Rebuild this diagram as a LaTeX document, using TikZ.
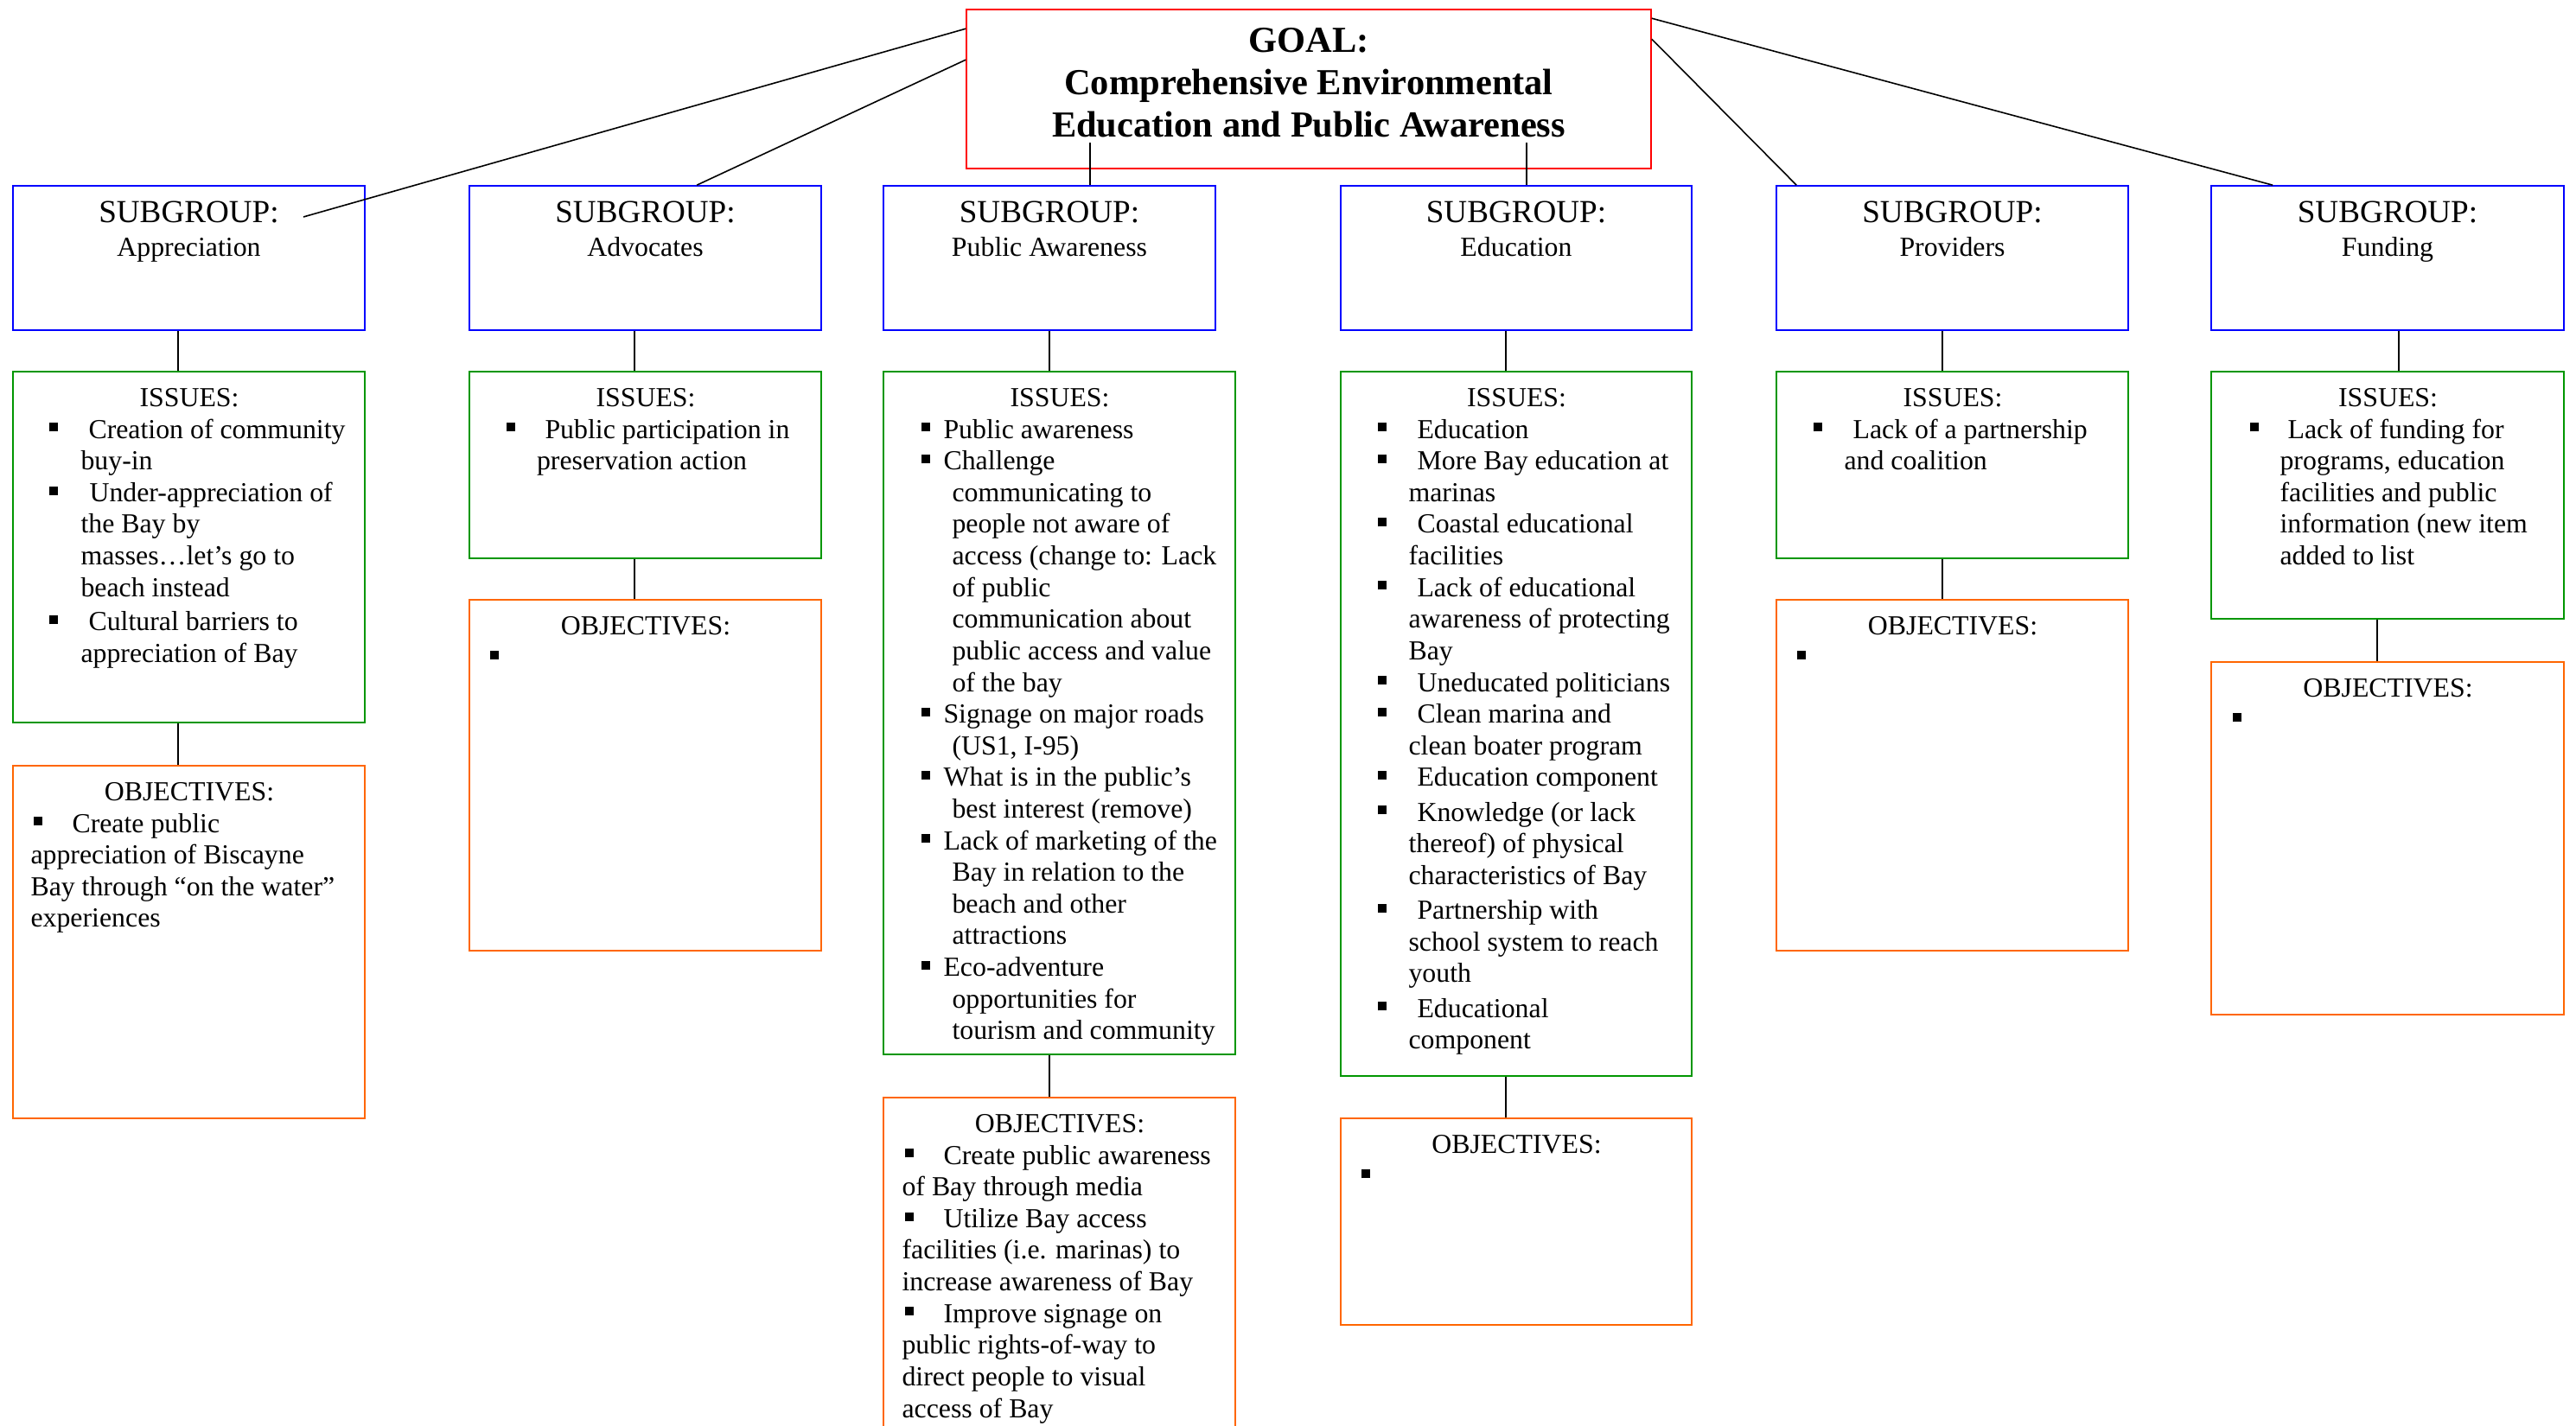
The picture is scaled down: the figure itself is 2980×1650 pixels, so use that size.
\documentclass[tikz,border=0pt]{standalone}
\usepackage{fontspec}
\setmainfont{Liberation Serif}
\usetikzlibrary{fit}
\definecolor{goalred}{RGB}{255,0,0}
\definecolor{subblue}{RGB}{0,0,255}
\definecolor{issgreen}{RGB}{0,150,0}
\definecolor{objorange}{RGB}{255,102,0}
\newdimen\PX \PX=0.377pt
\newcommand\HeadL[2]{\makebox[#1\PX]{\strut #2}}
\newcommand\BulL[3]{\rlap{\hspace*{#1\PX}\rule[2.9pt]{3.8pt}{3.8pt}}\hspace*{#2\PX}#3}
\newcommand\ConL[2]{\hspace*{#1\PX}#2}
\tikzset{
  boxbase/.style={draw, line width=0.6pt, inner sep=0pt, rectangle},
  goalbox/.style={boxbase, draw=goalred},
  subbox/.style={boxbase, draw=subblue},
  issbox/.style={boxbase, draw=issgreen},
  objbox/.style={boxbase, draw=objorange},
  conn/.style={draw=black, line width=0.6pt},
  txt/.style={inner sep=0pt, anchor=north west, align=left, font=\fontsize{12}{13.8}\selectfont},
  goaltxt/.style={inner sep=0pt, anchor=base, font=\bfseries\fontsize{16}{18.4}\selectfont},
  subhead/.style={inner sep=0pt, anchor=base, font=\fontsize{14}{16.1}\selectfont},
  subname/.style={inner sep=0pt, anchor=base, font=\fontsize{12}{13.8}\selectfont}
}
\begin{document}
\begin{tikzpicture}[x=0.377pt, y=-0.377pt]
\useasboundingbox (0,0) rectangle (2980,1650);
\clip (0,0) rectangle (2980,1650);
% goal
\node[goalbox, fit={(1118,11) (1910,195)}] (goal) {};
\node[goaltxt] (g1) at (1514,61) {GOAL:};
\node[goaltxt] (g2) at (1514,110) {Comprehensive Environmental};
\node[goaltxt] (g3) at (1514,159) {Education and Public Awareness};
% subgroups
\node[subbox, fit={(15,215) (422,382)}] (sub1) {};
\node[subbox, fit={(543,215) (950,382)}] (sub2) {};
\node[subbox, fit={(1022,215) (1406,382)}] (sub3) {};
\node[subbox, fit={(1551,215) (1957,382)}] (sub4) {};
\node[subbox, fit={(2055,215) (2462,382)}] (sub5) {};
\node[subbox, fit={(2558,215) (2966,382)}] (sub6) {};
\node[subhead] (s1a) at (218.5,258) {SUBGROUP:};
\node[subname] (s1b) at (218.5,297) {Appreciation};
\node[subhead] (s2a) at (746.5,258) {SUBGROUP:};
\node[subname] (s2b) at (746.5,297) {Advocates};
\node[subhead] (s3a) at (1214,258) {SUBGROUP:};
\node[subname] (s3b) at (1214,297) {Public Awareness};
\node[subhead] (s4a) at (1754,258) {SUBGROUP:};
\node[subname] (s4b) at (1754,297) {Education};
\node[subhead] (s5a) at (2258.5,258) {SUBGROUP:};
\node[subname] (s5b) at (2258.5,297) {Providers};
\node[subhead] (s6a) at (2762,258) {SUBGROUP:};
\node[subname] (s6b) at (2762,297) {Funding};
% issues boxes
\node[issbox, fit={(15,430) (422,836)}] (iss1) {};
\node[issbox, fit={(543,430) (950,646)}] (iss2) {};
\node[issbox, fit={(1022,430) (1429,1220)}] (iss3) {};
\node[issbox, fit={(1551,430) (1957,1245)}] (iss4) {};
\node[issbox, fit={(2055,430) (2462,646)}] (iss5) {};
\node[issbox, fit={(2558,430) (2966,716)}] (iss6) {};
% objectives boxes
\node[objbox, fit={(15,886) (422,1294)}] (obj1) {};
\node[objbox, fit={(543,694) (950,1100)}] (obj2) {};
\node[objbox, fit={(1022,1270) (1429,1720)}] (obj3) {};
\node[objbox, fit={(1551,1294) (1957,1533)}] (obj4) {};
\node[objbox, fit={(2055,694) (2462,1100)}] (obj5) {};
\node[objbox, fit={(2558,766) (2966,1174)}] (obj6) {};
% issues text
\node[txt] (it1) at (15,444.4) {\HeadL{407}{ISSUES:}\\
\BulL{41}{87}{Creation of community}\\
\ConL{78}{buy-in}\\
\BulL{41}{88}{Under-appreciation of}\\
\ConL{78}{the Bay by}\\
\ConL{78}{masses…let’s go to}\\
\ConL{78}{beach instead}\\[1.2pt]
\BulL{41}{87}{Cultural barriers to}\\
\ConL{78}{appreciation of Bay}};
\node[txt] (it2) at (543,444.4) {\HeadL{407}{ISSUES:}\\
\BulL{42}{87}{Public participation in}\\
\ConL{77.5}{preservation action}};
\node[txt] (it3) at (1022,444.4) {\HeadL{407}{ISSUES:}\\
\BulL{43}{69}{Public awareness}\\
\BulL{43}{69}{Challenge}\\
\ConL{79}{communicating to}\\
\ConL{79}{people not aware of}\\
\ConL{79}{access (change to: Lack}\\
\ConL{79}{of public}\\
\ConL{79}{communication about}\\
\ConL{79}{public access and value}\\
\ConL{79}{of the bay}\\
\BulL{43}{69}{Signage on major roads}\\
\ConL{79}{(US1, I-95)}\\
\BulL{43}{69}{What is in the public’s}\\
\ConL{79}{best interest (remove)}\\
\BulL{43}{69}{Lack of marketing of the}\\
\ConL{79}{Bay in relation to the}\\
\ConL{79}{beach and other}\\
\ConL{79}{attractions}\\
\BulL{43}{69}{Eco-adventure}\\
\ConL{79}{opportunities for}\\
\ConL{79}{tourism and community}};
\node[txt] (it4) at (1551,444.4) {\HeadL{406}{ISSUES:}\\
\BulL{42}{88}{Education}\\
\BulL{42}{88}{More Bay education at}\\
\ConL{78}{marinas}\\
\BulL{42}{88}{Coastal educational}\\
\ConL{78}{facilities}\\
\BulL{42}{88}{Lack of educational}\\
\ConL{78}{awareness of protecting}\\
\ConL{78}{Bay}\\
\BulL{42}{88}{Uneducated politicians}\\
\BulL{42}{88}{Clean marina and}\\
\ConL{78}{clean boater program}\\
\BulL{42}{88}{Education component}\\[1.4pt]
\BulL{42}{88}{Knowledge (or lack}\\
\ConL{78}{thereof) of physical}\\
\ConL{78}{characteristics of Bay}\\[1.4pt]
\BulL{42}{88}{Partnership with}\\
\ConL{78}{school system to reach}\\
\ConL{78}{youth}\\[1.4pt]
\BulL{42}{88}{Educational}\\
\ConL{78}{component}};
\node[txt] (it5) at (2055,444.4) {\HeadL{407}{ISSUES:}\\
\BulL{42}{88}{Lack of a partnership}\\
\ConL{78}{and coalition}};
\node[txt] (it6) at (2558,444.4) {\HeadL{408}{ISSUES:}\\
\BulL{44}{88}{Lack of funding for}\\
\ConL{79}{programs, education}\\
\ConL{79}{facilities and public}\\
\ConL{79}{information (new item}\\
\ConL{79}{added to list}};
% objectives text
\node[txt] (ot1) at (15,900.4) {\HeadL{407}{OBJECTIVES:}\\
\BulL{23}{68}{Create public}\\
\ConL{20}{appreciation of Biscayne}\\
\ConL{20}{Bay through “on the water”}\\
\ConL{20}{experiences}};
\node[txt] (ot2) at (543,708.4) {\HeadL{407}{OBJECTIVES:}\\
\BulL{23}{60}{}};
\node[txt] (ot3) at (1022,1284.4) {\HeadL{407}{OBJECTIVES:}\\
\BulL{24}{69}{Create public awareness}\\
\ConL{21}{of Bay through media}\\
\BulL{24}{69}{Utilize Bay access}\\
\ConL{21}{facilities (i.e. marinas) to}\\
\ConL{21}{increase awareness of Bay}\\
\BulL{24}{69}{Improve signage on}\\
\ConL{21}{public rights-of-way to}\\
\ConL{21}{direct people to visual}\\
\ConL{21}{access of Bay}};
\node[txt] (ot4) at (1551,1308.4) {\HeadL{406}{OBJECTIVES:}\\
\BulL{23}{60}{}};
\node[txt] (ot5) at (2055,708.4) {\HeadL{407}{OBJECTIVES:}\\
\BulL{23}{60}{}};
\node[txt] (ot6) at (2558,780.4) {\HeadL{408}{OBJECTIVES:}\\
\BulL{24}{60}{}};
% connectors goal -> subgroups
\coordinate (e1) at (351,251);
\draw[conn] ([yshift=-8.67pt]goal.north west) -- (e1);
\draw[conn] ([yshift=-22.24pt]goal.north west) -- ([xshift=99.5pt]sub2.north west);
\draw[conn] ([xshift=90.5pt]sub3.north west) -- ++(0,-49);
\draw[conn] ([xshift=81.4pt]sub4.north west) -- ++(0,-49);
\draw[conn] ([yshift=-13.2pt]goal.north east) -- ([xshift=9.05pt]sub5.north west);
\draw[conn] ([yshift=-4.15pt]goal.north east) -- ([xshift=27.1pt]sub6.north west);
% subgroup -> issues
\draw[conn] ([xshift=-4.7pt]sub1.south) -- ([xshift=-4.7pt]sub1.south |- iss1.north);
\draw[conn] ([xshift=-4.7pt]sub2.south) -- ([xshift=-4.7pt]sub2.south |- iss2.north);
\draw[conn] (sub3.south) -- (sub3.south |- iss3.north);
\draw[conn] ([xshift=-4.5pt]sub4.south) -- ([xshift=-4.5pt]sub4.south |- iss4.north);
\draw[conn] ([xshift=-4.3pt]sub5.south) -- ([xshift=-4.3pt]sub5.south |- iss5.north);
\draw[conn] ([xshift=4.9pt]sub6.south) -- ([xshift=4.9pt]sub6.south |- iss6.north);
% issues -> objectives
\draw[conn] ([xshift=-4.7pt]iss1.south) -- ([xshift=-4.7pt]iss1.south |- obj1.north);
\draw[conn] ([xshift=-4.7pt]iss2.south) -- ([xshift=-4.7pt]iss2.south |- obj2.north);
\draw[conn] ([xshift=-4.3pt]iss3.south) -- ([xshift=-4.3pt]iss3.south |- obj3.north);
\draw[conn] ([xshift=-4.5pt]iss4.south) -- ([xshift=-4.5pt]iss4.south |- obj4.north);
\draw[conn] ([xshift=-4.3pt]iss5.south) -- ([xshift=-4.3pt]iss5.south |- obj5.north);
\draw[conn] ([xshift=-4.5pt]iss6.south) -- ([xshift=-4.5pt]iss6.south |- obj6.north);
\end{tikzpicture}
\end{document}
